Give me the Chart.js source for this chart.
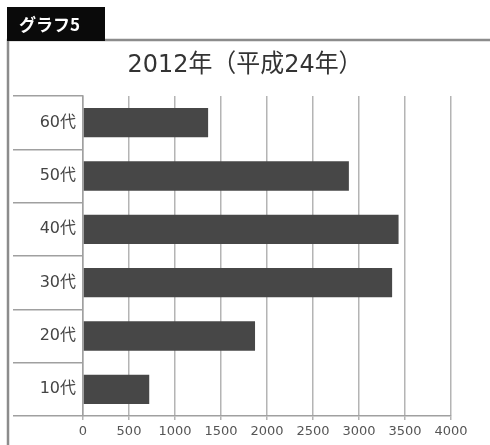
<!DOCTYPE html>
<html lang="ja">
<head>
<meta charset="utf-8">
<title>グラフ5</title>
<script src="https://cdn.jsdelivr.net/npm/chart.js@4/dist/chart.umd.min.js"></script>
<style>
  html, body { margin: 0; padding: 0; background: #fff; }
  #wrap { width: 490px; height: 445px; }
</style>
</head>
<body>
<div id="wrap"><canvas id="graph5" width="490" height="445"></canvas></div>
<script>
// 年代別の件数（2012年）
const ageGroups = ["10代", "20代", "30代", "40代", "50代", "60代"];
const counts = [720, 1870, 3360, 3430, 2890, 1360];
const xTicks = [0, 500, 1000, 1500, 2000, 2500, 3000, 3500, 4000];

const tabLabel = "グラフ5";
const chartTitle = "2012年（平成24年）";

const jpFont = '"Noto Sans CJK JP", "Noto Sans", sans-serif';
const wideFont = '"DejaVu Sans", "Noto Sans CJK JP", sans-serif';

// 枠線・見出しタブ・タイトル
const framePlugin = {
    id: "frame",
    beforeDraw(chart) {
        const ctx = chart.ctx;
        ctx.save();
        ctx.fillStyle = "#fff";
        ctx.fillRect(0, 0, chart.width, chart.height);

        ctx.strokeStyle = "#8c8c8c";
        ctx.lineWidth = 2.5;
        ctx.beginPath();
        ctx.moveTo(8, 445);
        ctx.lineTo(8, 40);
        ctx.lineTo(490, 40);
        ctx.stroke();

        ctx.fillStyle = "#0a0a0a";
        ctx.fillRect(7, 7, 98, 34);
        ctx.fillStyle = "#fff";
        ctx.font = "bold 17px " + jpFont;
        ctx.textBaseline = "middle";
        ctx.textAlign = "left";
        ctx.fillText(tabLabel, 19, 25);

        // タイトルは横長の書体に合わせて横方向に伸ばす
        ctx.fillStyle = "#333";
        ctx.font = "25px " + wideFont;
        ctx.textAlign = "center";
        const w = ctx.measureText(chartTitle).width;
        const sx = 235 / w;
        ctx.translate(245, 65);
        ctx.scale(sx, 1);
        ctx.fillText(chartTitle, 0, 0);
        ctx.restore();
    }
};

const ctx = document.getElementById("graph5").getContext("2d");

new Chart(ctx, {
    type: "bar",
    data: {
        labels: ageGroups,
        datasets: [{
            data: counts,
            backgroundColor: "#474747",
            borderWidth: 0,
            barPercentage: 0.55,
            categoryPercentage: 1
        }]
    },
    options: {
        indexAxis: "y",
        responsive: false,
        animation: false,
        layout: { padding: { top: 96, left: 13, right: 39, bottom: 0 } },
        plugins: {
            legend: { display: false },
            tooltip: { enabled: false }
        },
        scales: {
            x: {
                min: 0,
                max: 4000,
                afterBuildTicks(scale) {
                    scale.ticks = xTicks.map(v => ({ value: v }));
                },
                grid: { color: "#b4b4b4", lineWidth: 1.5, tickLength: 4 },
                border: { display: true, color: "#a0a0a0", width: 1.5 },
                ticks: {
                    color: "#555",
                    font: { size: 13, family: wideFont },
                    padding: 4,
                    maxRotation: 0,
                    callback: v => String(v)
                },
                afterFit(scale) { scale.height = 29; }
            },
            y: {
                reverse: true,
                grid: {
                    color: "#a0a0a0",
                    lineWidth: 1.5,
                    drawOnChartArea: false,
                    tickLength: 70,
                    offset: true
                },
                border: { display: true, color: "#a0a0a0", width: 1.5 },
                ticks: {
                    color: "#444",
                    font: { size: 16, family: wideFont },
                    padding: -63
                },
                afterFit(scale) { scale.width = 70; }
            }
        }
    },
    plugins: [framePlugin]
});
</script>
</body>
</html>
